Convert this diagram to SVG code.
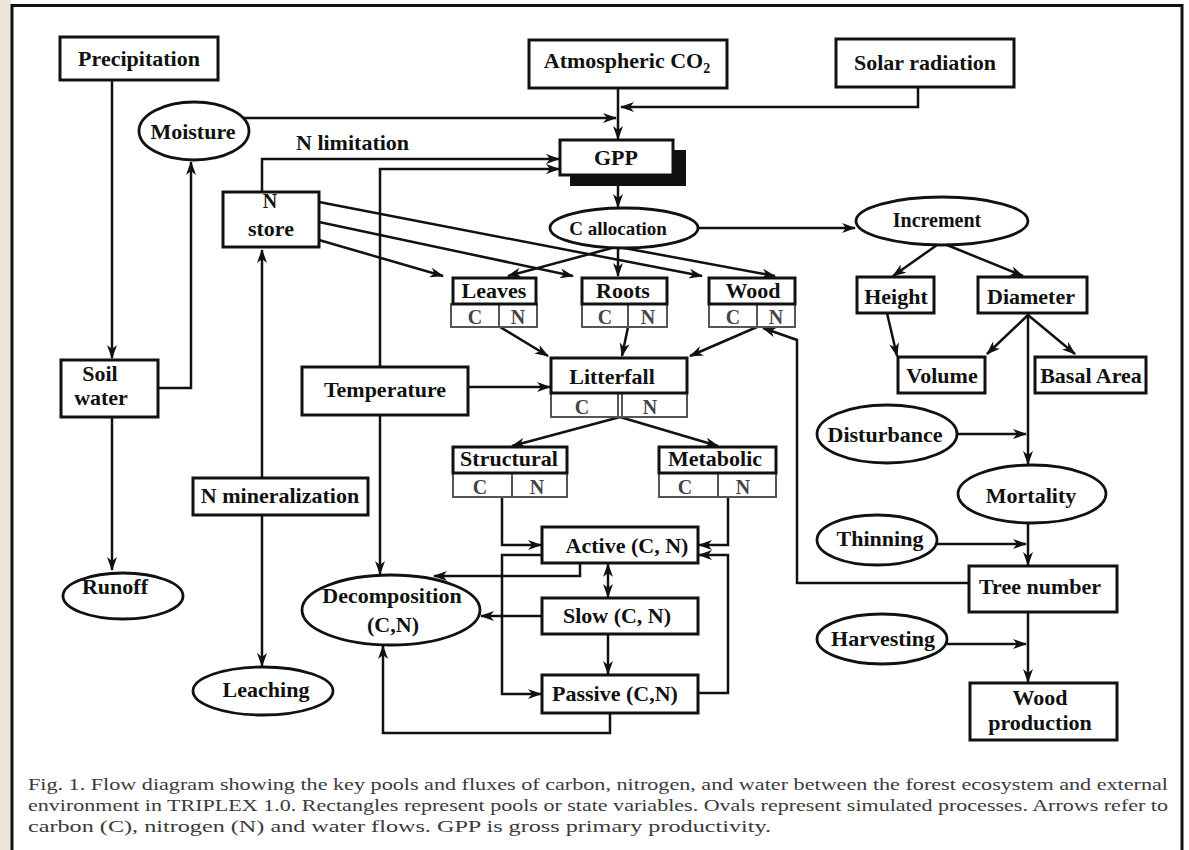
<svg xmlns="http://www.w3.org/2000/svg" width="1189" height="850" viewBox="0 0 1189 850">
<defs>
<style>
.bx{fill:#fff;stroke:#111;stroke-width:3}
.cn{fill:#fff;stroke:#555;stroke-width:2}
.el{fill:#fff;stroke:#111;stroke-width:2.8}
.t{font-family:"Liberation Serif","Times New Roman",serif;font-weight:bold;font-size:22px;text-anchor:middle;fill:#111}
.c{font-family:"Liberation Serif","Times New Roman",serif;font-weight:bold;font-size:20px;text-anchor:middle;fill:#444}
.cap{font-family:"Liberation Serif","Times New Roman",serif;font-size:17px;fill:#3a3a3a}
.ln{fill:none;stroke:#111;stroke-width:2.5}
.ar{marker-end:url(#ah)}
</style>
<marker id="ah" viewBox="0 0 14 10" refX="13" refY="5" markerWidth="14" markerHeight="10" markerUnits="userSpaceOnUse" orient="auto-start-reverse"><path d="M0,0 L14,5 L0,10 L4,5 Z" fill="#111"/></marker>
</defs>
<rect x="0" y="0" width="1189" height="850" fill="#fff"/>
<rect x="0" y="0" width="11" height="850" fill="#efe6db"/>
<rect x="12" y="5.5" width="1170" height="880" fill="none" stroke="#111" stroke-width="3"/>

<g id="connectors">
<path class="ln ar" d="M112,80 V358"/>
<path class="ln ar" d="M158,388 H191 V162"/>
<path class="ln ar" d="M112,417 V570"/>
<path class="ln ar" d="M243,118 H616"/>
<path class="ln ar" d="M618,88 V139"/>
<path class="ln ar" d="M918,87 V107 H621"/>
<path class="ln ar" d="M262,192 V159 H559"/>
<path class="ln ar" d="M380,367 V169 H559"/>
<path class="ln ar" d="M380,415 V574"/>
<path class="ln ar" d="M468,387 H550"/>
<path class="ln ar" d="M618,186 V207"/>
<path class="ln ar" d="M698,228 H855"/>
<path class="ln ar" d="M319,240 L443,276"/>
<path class="ln ar" d="M319,222 L573,276"/>
<path class="ln ar" d="M319,202 L702,276"/>
<path class="ln ar" d="M612,248 L508,276"/>
<path class="ln ar" d="M618,248 V276"/>
<path class="ln ar" d="M624,248 L775,276"/>
<path class="ln ar" d="M500,327 L548,356"/>
<path class="ln ar" d="M628,327 L622,356"/>
<path class="ln ar" d="M757,327 L690,356"/>
<path class="ln ar" d="M969,583 H797 V340 L763,328"/>
<path class="ln ar" d="M620,417 L512,446"/>
<path class="ln ar" d="M620,417 L718,446"/>
<path class="ln ar" d="M502,497 V545 H541"/>
<path class="ln ar" d="M728,497 V545 H699"/>
<path class="ln ar" d="M542,555 H502 V694 H541"/>
<path class="ln ar" d="M698,693 H728 V555 H699"/>
<path class="ln ar" d="M608,564 V597" marker-start="url(#ah)"/>
<path class="ln ar" d="M580,563 V576 H434"/>
<path class="ln ar" d="M542,616 H481"/>
<path class="ln ar" d="M608,634 V674"/>
<path class="ln ar" d="M610,713 V733 H383 V646"/>
<path class="ln ar" d="M262,478 V250"/>
<path class="ln ar" d="M262,515 V666"/>
<path class="ln ar" d="M937,245 L893,276"/>
<path class="ln ar" d="M947,245 L1023,276"/>
<path class="ln ar" d="M887,313 L897,356"/>
<path class="ln ar" d="M1028,315 L987,354"/>
<path class="ln ar" d="M1028,315 L1075,354"/>
<path class="ln ar" d="M1028,313 V464"/>
<path class="ln ar" d="M957,434 H1026"/>
<path class="ln ar" d="M1028,523 V565"/>
<path class="ln ar" d="M937,544 H1026"/>
<path class="ln ar" d="M1028,612 V682"/>
<path class="ln ar" d="M947,644 H1026"/>
</g>

<g id="precipitation"><rect class="bx" x="60" y="37" width="158" height="43"/><text class="t" x="139" y="66">Precipitation</text></g>
<g id="atmco2"><rect class="bx" x="529" y="40" width="198" height="48"/><text class="t" x="627" y="68">Atmospheric CO<tspan font-size="14" dy="5">2</tspan></text></g>
<g id="solar"><rect class="bx" x="836" y="39" width="178" height="48"/><text class="t" x="925" y="70">Solar radiation</text></g>
<g id="moisture"><ellipse class="el" cx="194" cy="131" rx="55" ry="29"/><text class="t" x="193" y="139">Moisture</text></g>
<g id="gpp"><rect x="570" y="150" width="116" height="36" fill="#111"/><rect class="bx" x="560" y="140" width="113" height="35"/><text class="t" x="616" y="165">GPP</text></g>
<text class="t" x="296" y="150" style="text-anchor:start">N limitation</text>
<g id="nstore"><rect class="bx" x="223" y="192" width="96" height="55"/><text class="t" x="270" y="208" style="font-size:20px">N</text><text class="t" x="271" y="236">store</text></g>
<g id="callocation"><ellipse class="el" cx="624" cy="228" rx="74" ry="20"/><text class="t" x="618" y="235" style="font-size:19px">C  allocation</text></g>
<g id="increment"><ellipse class="el" cx="942" cy="221" rx="86" ry="24"/><text class="t" x="937" y="227" style="font-size:20px">Increment</text></g>

<g id="leaves"><rect class="cn" x="451" y="304" width="86" height="23"/><line x1="499" y1="304" x2="499" y2="327" stroke="#555" stroke-width="2"/><text class="c" x="475" y="324">C</text><text class="c" x="518" y="324">N</text><rect class="bx" x="453" y="278" width="83" height="26"/><text class="t" x="494" y="298">Leaves</text></g>
<g id="roots"><rect class="cn" x="582" y="304" width="85" height="23"/><line x1="628" y1="304" x2="628" y2="327" stroke="#555" stroke-width="2"/><text class="c" x="605" y="324">C</text><text class="c" x="648" y="324">N</text><rect class="bx" x="582" y="278" width="85" height="26"/><text class="t" x="623" y="298">Roots</text></g>
<g id="wood"><rect class="cn" x="709" y="304" width="86" height="23"/><line x1="757" y1="304" x2="757" y2="327" stroke="#555" stroke-width="2"/><text class="c" x="733" y="324">C</text><text class="c" x="776" y="324">N</text><rect class="bx" x="709" y="278" width="86" height="26"/><text class="t" x="753" y="298">Wood</text></g>

<g id="temperature"><rect class="bx" x="302" y="367" width="166" height="48"/><text class="t" x="385" y="397">Temperature</text></g>
<g id="litterfall"><rect class="cn" x="551" y="393" width="136" height="24"/><line x1="618" y1="393" x2="618" y2="417" stroke="#555" stroke-width="2"/><line x1="622" y1="393" x2="622" y2="417" stroke="#555" stroke-width="2"/><text class="c" x="582" y="414">C</text><text class="c" x="650" y="414">N</text><rect class="bx" x="551" y="358" width="136" height="35"/><text class="t" x="612" y="384">Litterfall</text></g>

<g id="structural"><rect class="cn" x="453" y="473" width="114" height="24"/><line x1="512" y1="473" x2="512" y2="497" stroke="#555" stroke-width="2"/><text class="c" x="480" y="494">C</text><text class="c" x="537" y="494">N</text><rect class="bx" x="453" y="447" width="114" height="26"/><text class="t" x="509" y="466">Structural</text></g>
<g id="metabolic"><rect class="cn" x="659" y="473" width="117" height="24"/><line x1="718" y1="473" x2="718" y2="497" stroke="#555" stroke-width="2"/><text class="c" x="685" y="494">C</text><text class="c" x="743" y="494">N</text><rect class="bx" x="659" y="447" width="117" height="26"/><text class="t" x="715" y="466">Metabolic</text></g>

<g id="active"><rect class="bx" x="542" y="527" width="156" height="36"/><text class="t" x="627" y="553">Active (C, N)</text></g>
<g id="slow"><rect class="bx" x="542" y="598" width="156" height="36"/><text class="t" x="617" y="623">Slow  (C, N)</text></g>
<g id="passive"><rect class="bx" x="542" y="675" width="156" height="38"/><text class="t" x="615" y="701">Passive (C,N)</text></g>
<g id="decomposition"><ellipse class="el" cx="391" cy="610" rx="89" ry="35"/><text class="t" x="392" y="603">Decomposition</text><text class="t" x="393" y="632">(C,N)</text></g>

<g id="nmineralization"><rect class="bx" x="193" y="478" width="175" height="37"/><text class="t" x="280" y="503">N mineralization</text></g>
<g id="leaching"><ellipse class="el" cx="263" cy="691" rx="70" ry="24"/><text class="t" x="266" y="697">Leaching</text></g>
<g id="soilwater"><rect class="bx" x="61" y="360" width="97" height="57"/><text class="t" x="100" y="381">Soil</text><text class="t" x="101" y="405">water</text></g>
<g id="runoff"><ellipse class="el" cx="123" cy="596" rx="60" ry="23"/><text class="t" x="115" y="594">Runoff</text></g>

<g id="height"><rect class="bx" x="857" y="277" width="77" height="36"/><text class="t" x="896" y="304">Height</text></g>
<g id="diameter"><rect class="bx" x="978" y="277" width="109" height="36"/><text class="t" x="1031" y="304">Diameter</text></g>
<g id="volume"><rect class="bx" x="898" y="357" width="87" height="36"/><text class="t" x="942" y="383">Volume</text></g>
<g id="basalarea"><rect class="bx" x="1035" y="357" width="111" height="36"/><text class="t" x="1091" y="383">Basal Area</text></g>
<g id="disturbance"><ellipse class="el" cx="887" cy="434" rx="70" ry="29"/><text class="t" x="885" y="442">Disturbance</text></g>
<g id="mortality"><ellipse class="el" cx="1032" cy="494" rx="74" ry="29"/><text class="t" x="1031" y="503">Mortality</text></g>
<g id="thinning"><ellipse class="el" cx="877" cy="540" rx="60" ry="25"/><text class="t" x="880" y="546">Thinning</text></g>
<g id="treenumber"><rect class="bx" x="969" y="566" width="148" height="46"/><text class="t" x="1040" y="594">Tree number</text></g>
<g id="harvesting"><ellipse class="el" cx="882" cy="639" rx="65" ry="25"/><text class="t" x="883" y="646">Harvesting</text></g>
<g id="woodproduction"><rect class="bx" x="970" y="683" width="147" height="57"/><text class="t" x="1040" y="705">Wood</text><text class="t" x="1040" y="730">production</text></g>

<g id="caption">
<text class="cap" x="28" y="790" textLength="1140" lengthAdjust="spacingAndGlyphs">Fig. 1. Flow diagram showing the key pools and fluxes of carbon, nitrogen, and water between the forest ecosystem and external</text>
<text class="cap" x="28" y="811" textLength="1140" lengthAdjust="spacingAndGlyphs">environment in TRIPLEX 1.0. Rectangles represent pools or state variables. Ovals represent simulated processes. Arrows refer to</text>
<text class="cap" x="28" y="832" textLength="743" lengthAdjust="spacingAndGlyphs">carbon (C), nitrogen (N) and water flows. GPP is gross primary productivity.</text>
</g>
</svg>
